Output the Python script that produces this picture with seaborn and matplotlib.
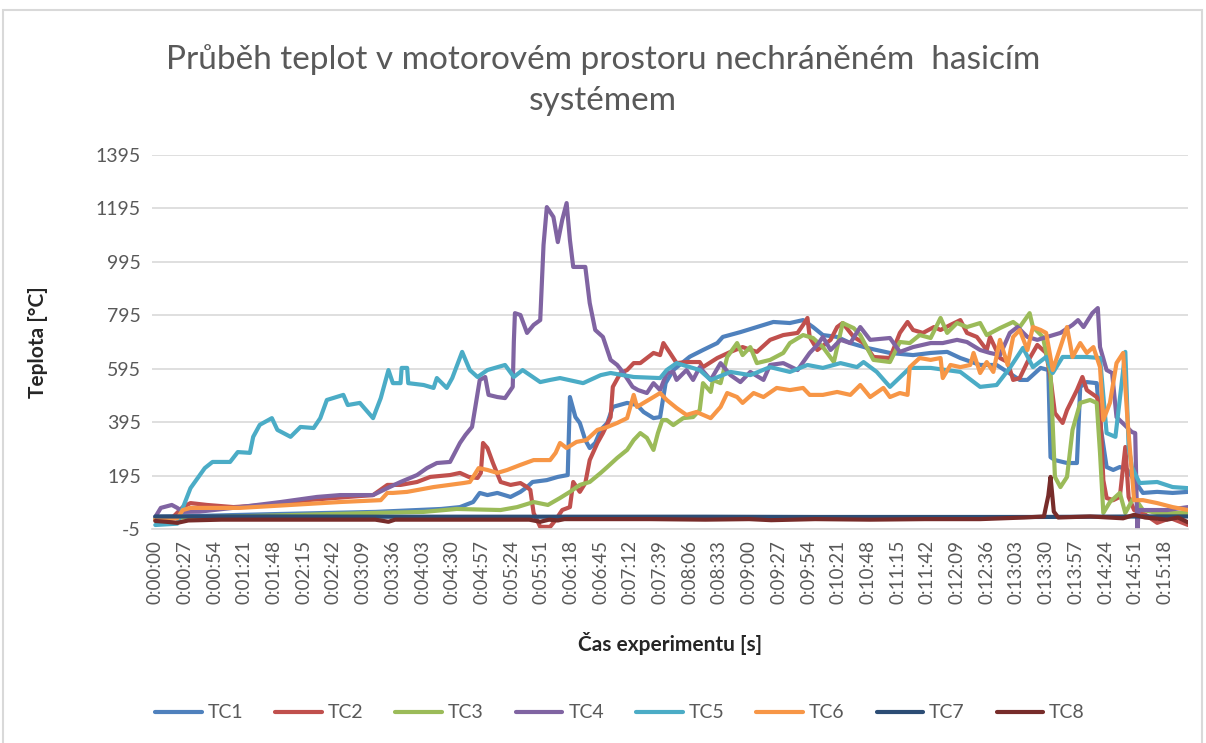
import pandas as pd
import numpy as np
import matplotlib
matplotlib.use('Agg')
import matplotlib.pyplot as plt
import seaborn as sns
from matplotlib.patches import Rectangle

# time in seconds, temperature in deg C
t1 = [0, 100, 200, 260, 277, 289, 295, 302, 311, 323, 332, 338, 343, 356, 366, 375, 377, 382, 386, 391,
      395, 400, 405, 411, 416, 429, 438, 444, 453, 459, 464, 471, 486, 498, 511, 516, 532, 547, 562, 577,
      589, 598, 607, 620, 632, 647, 668, 689, 705, 720, 732, 750, 765, 786, 793, 805, 812, 814, 818, 829,
      838, 841, 847, 856, 859, 865, 871, 877, 884, 890, 898, 911, 925, 939]
v1 = [40, 50, 59, 70, 77, 96, 130, 122, 130, 115, 134, 152, 171, 178, 190, 197, 489, 414, 392, 328,
      298, 317, 366, 392, 452, 467, 459, 433, 410, 414, 541, 590, 640, 665, 691, 714, 732, 751, 770, 766,
      777, 751, 721, 714, 691, 673, 654, 646, 654, 658, 635, 609, 609, 553, 553, 598, 590, 264, 253, 242,
      242, 527, 545, 541, 392, 227, 216, 227, 216, 178, 130, 134, 130, 134]

t2 = [0, 15, 25, 32, 47, 71, 102, 138, 175, 198, 211, 223, 238, 250, 268, 277, 285, 293, 296, 298,
      302, 307, 314, 323, 332, 338, 341, 344, 350, 359, 364, 370, 377, 380, 386, 391, 395, 402, 407, 414,
      416, 423, 429, 435, 441, 447, 453, 459, 462, 468, 474, 483, 495, 498, 511, 523, 534, 547, 559, 571,
      584, 589, 593, 595, 602, 614, 620, 625, 635, 644, 653, 668, 677, 684, 689, 698, 708, 714, 723, 732,
      738, 747, 756, 759, 768, 775, 780, 786, 793, 802, 810, 814, 818, 825, 829, 838, 843, 847, 856, 859,
      862, 865, 871, 877, 882, 885, 890, 898, 911, 923, 939]
v2 = [30, 35, 77, 92, 85, 77, 85, 103, 115, 122, 160, 160, 171, 190, 197, 205, 190, 186, 205, 317,
      298, 242, 171, 160, 167, 152, 141, 55, 3, 3, 29, 66, 77, 171, 134, 167, 253, 317, 354, 414,
      527, 579, 590, 616, 616, 635, 654, 646, 691, 654, 616, 620, 620, 601, 635, 658, 676, 658, 703, 721,
      729, 759, 785, 714, 665, 703, 751, 766, 714, 691, 639, 635, 729, 770, 740, 729, 751, 740, 759, 777,
      729, 714, 665, 714, 635, 620, 553, 560, 620, 684, 654, 560, 429, 392, 440, 515, 564, 515, 489, 452,
      178, 111, 103, 115, 302, 115, 66, 55, 18, 36, 10]

t3 = [0, 50, 123, 198, 244, 274, 314, 329, 344, 357, 368, 377, 386, 395, 405, 411, 420, 429, 435, 441,
      447, 453, 457, 461, 465, 471, 480, 489, 495, 498, 505, 507, 514, 520, 529, 534, 541, 547, 559, 571,
      577, 589, 598, 607, 617, 625, 635, 641, 653, 668, 677, 686, 695, 705, 714, 720, 729, 738, 750, 756,
      768, 780, 786, 795, 798, 807, 814, 818, 823, 829, 834, 841, 850, 856, 859, 862, 868, 877, 882, 890,
      898, 911, 925, 939]
v3 = [35, 40, 47, 55, 59, 70, 66, 77, 96, 85, 111, 134, 160, 171, 205, 227, 261, 291, 328, 354,
      336, 291, 354, 403, 403, 384, 410, 414, 440, 541, 508, 553, 541, 639, 691, 646, 676, 616, 628, 654,
      691, 721, 710, 676, 620, 766, 747, 721, 628, 620, 695, 691, 721, 710, 785, 729, 766, 751, 766, 721,
      747, 770, 751, 803, 751, 714, 579, 190, 152, 190, 366, 467, 478, 467, 280, 55, 96, 130, 55, 115,
      66, 55, 55, 55]

t4 = [0, 5, 15, 20, 25, 40, 77, 114, 147, 168, 198, 211, 223, 238, 247, 256, 268, 277, 282, 288,
      291, 295, 300, 303, 311, 318, 325, 326, 327, 332, 338, 344, 350, 353, 356, 362, 366, 370, 374, 377,
      380, 391, 395, 400, 407, 414, 420, 425, 434, 439, 447, 453, 459, 465, 471, 474, 483, 489, 495, 505,
      514, 523, 532, 541, 553, 559, 571, 584, 595, 602, 607, 614, 623, 632, 641, 650, 668, 677, 689, 705,
      716, 729, 738, 750, 759, 768, 777, 784, 793, 802, 823, 834, 839, 844, 852, 857, 859, 865, 870, 874,
      888, 891, 893, 894, 905, 920, 939]
v4 = [40, 74, 85, 74, 59, 60, 77, 96, 115, 122, 122, 148, 171, 197, 223, 242, 246, 317, 347, 377,
      452, 553, 564, 497, 489, 485, 527, 695, 803, 796, 729, 759, 777, 1058, 1200, 1163, 1069, 1152, 1215, 1077,
      976, 976, 841, 740, 714, 628, 609, 583, 527, 515, 504, 541, 515, 579, 583, 553, 590, 553, 601, 553,
      616, 571, 545, 583, 553, 609, 616, 590, 654, 684, 714, 665, 703, 691, 751, 703, 710, 658, 676, 691,
      691, 703, 695, 665, 654, 646, 729, 751, 714, 703, 729, 759, 777, 751, 803, 822, 676, 590, 579, 414,
      358, 354, -25, 66, 66, 66, 77]

t5 = [0, 20, 25, 32, 45, 52, 68, 75, 86, 89, 95, 106, 111, 123, 132, 144, 150, 156, 171, 175,
      186, 198, 205, 212, 216, 223, 224, 229, 230, 244, 253, 256, 265, 270, 279, 286, 293, 302, 318, 326,
      334, 350, 359, 368, 389, 405, 414, 435, 459, 465, 474, 495, 505, 523, 541, 559, 577, 593, 607, 623,
      638, 644, 656, 668, 686, 705, 732, 750, 765, 777, 789, 798, 810, 816, 825, 847, 859, 865, 873, 882,
      885, 888, 895, 911, 925, 939]
v5 = [10, 15, 74, 148, 223, 246, 246, 283, 280, 340, 385, 410, 366, 340, 377, 373, 410, 478, 497, 459,
      467, 410, 485, 590, 541, 541, 598, 598, 541, 534, 523, 560, 523, 560, 658, 590, 564, 590, 609, 564,
      590, 545, 553, 560, 541, 571, 579, 564, 560, 590, 616, 590, 553, 583, 571, 601, 583, 609, 598, 616,
      601, 620, 583, 527, 598, 598, 583, 527, 534, 598, 673, 601, 639, 579, 639, 639, 635, 354, 340, 658,
      302, 227, 167, 171, 152, 148]

t6 = [0, 20, 25, 32, 77, 123, 168, 205, 211, 216, 229, 253, 280, 286, 289, 294, 302, 311, 320, 332,
      344, 359, 364, 368, 374, 383, 392, 402, 411, 420, 429, 435, 438, 444, 453, 459, 465, 474, 483, 492,
      505, 514, 520, 529, 534, 544, 553, 565, 577, 589, 595, 607, 620, 632, 641, 650, 662, 668, 677, 684,
      686, 695, 705, 714, 716, 723, 732, 741, 744, 750, 756, 762, 768, 775, 780, 786, 793, 798, 805, 810,
      816, 823, 829, 834, 841, 847, 853, 859, 862, 868, 874, 880, 884, 890, 898, 911, 925, 939]
v6 = [30, 35, 66, 74, 74, 85, 96, 103, 130, 130, 134, 152, 167, 171, 190, 223, 216, 205, 216, 235,
      253, 253, 280, 317, 298, 321, 328, 366, 377, 392, 410, 497, 452, 467, 489, 504, 478, 448, 422, 433,
      410, 452, 504, 489, 467, 504, 489, 523, 515, 523, 497, 497, 508, 497, 534, 489, 523, 489, 504, 497,
      601, 635, 628, 635, 560, 609, 601, 609, 654, 579, 620, 583, 703, 609, 714, 740, 665, 751, 740, 729,
      590, 676, 751, 639, 691, 654, 676, 601, 403, 467, 616, 654, 403, 103, 103, 92, 77, 66]

t7 = [0, 100, 200, 300, 400, 500, 600, 700, 800, 850, 900, 939]
v7 = [42, 42, 41, 41, 41, 41, 40, 40, 40, 41, 42, 42]

t8 = [0, 10, 20, 30, 60, 100, 150, 200, 212, 218, 260, 300, 340, 350, 358, 366, 372, 400, 450, 500,
      540, 560, 600, 650, 700, 750, 790, 808, 812, 814, 817, 821, 850, 880, 890, 900, 920, 930, 939]
v8 = [25, 22, 18, 27, 30, 30, 30, 30, 22, 30, 30, 30, 30, 22, 30, 27, 32, 32, 32, 30,
      32, 28, 32, 30, 32, 32, 38, 42, 120, 190, 60, 38, 42, 35, 48, 38, 30, 38, 20]

sensors = ['TC1', 'TC2', 'TC3', 'TC4', 'TC5', 'TC6', 'TC7', 'TC8']
colors = ['#4F81BD', '#C0504D', '#9BBB59', '#8064A2', '#4BACC6', '#F79646', '#2C4D75', '#772C2A']

times = [t1, t2, t3, t4, t5, t6, t7, t8]
temps = [v1, v2, v3, v4, v5, v6, v7, v8]
frames = []
for name, t, v in zip(sensors, times, temps):
    frames.append(pd.DataFrame({'cas': t, 'teplota': v, 'cidlo': name}))
df = pd.concat(frames, ignore_index=True)

yticks = [-5, 195, 395, 595, 795, 995, 1195, 1395]
xticks = list(range(0, 919, 27))
xlabels = ['%d:%02d:%02d' % (s // 3600, (s % 3600) // 60, s % 60) for s in xticks]

sns.set_style('white')
plt.rcParams['font.family'] = ['Liberation Sans Narrow', 'Lato', 'DejaVu Sans']

fig = plt.figure(figsize=(12.06, 7.43), dpi=100)
ax = fig.add_axes([152 / 1206, 1 - 529 / 743, (1188 - 152) / 1206, (529 - 155) / 743])

sns.lineplot(data=df, x='cas', y='teplota', hue='cidlo', palette=colors,
             estimator=None, linewidth=3.0, ax=ax)

ax.set_xlim(-3, 939)
ax.set_ylim(-5, 1395)
ax.set_yticks(yticks)
ax.set_yticklabels([str(y) for y in yticks], fontsize=14, color='#595959',
                   family=['Lato', 'DejaVu Sans'])
ax.set_xticks(xticks)
ax.set_xticklabels(xlabels, rotation=90, fontsize=13.5, color='#595959')
ax.tick_params(length=0, pad=8)
ax.yaxis.grid(True, color='#D9D9D9', linewidth=1.2)
ax.set_axisbelow(True)
for s in ['top', 'right', 'left']:
    ax.spines[s].set_visible(False)
ax.spines['bottom'].set_color('#D9D9D9')
ax.spines['bottom'].set_linewidth(1.2)

ax.set_xlabel('Čas experimentu [s]', fontsize=15, fontweight='bold', family=['Lato', 'DejaVu Sans'], labelpad=20)
ax.set_ylabel('Teplota [°C]', fontsize=15, fontweight='bold', family=['Lato', 'DejaVu Sans'], labelpad=34)

fig.text(0.5, 1 - 80 / 743, 'Průběh teplot v motorovém prostoru nechráněném  hasicím\nsystémem',
         ha='center', va='center', fontsize=24, color='#595959', linespacing=1.45,
         family=['Lato', 'DejaVu Sans'])

ax.legend(loc='center', bbox_to_anchor=(620 / 1206, (743 - 713) / 743), bbox_transform=fig.transFigure,
          ncol=8, frameon=False, fontsize=14, handlelength=2.4, columnspacing=1.65,
          handletextpad=0.3)
for txt in ax.get_legend().get_texts():
    txt.set_color('#595959')

fig.add_artist(Rectangle((3 / 1206, -0.01), 1199 / 1206, 1 - 10 / 743 + 0.01,
                         transform=fig.transFigure, fill=False, edgecolor='#D9D9D9', linewidth=1.5))

fig.savefig('out.png', dpi=100, facecolor='white')
